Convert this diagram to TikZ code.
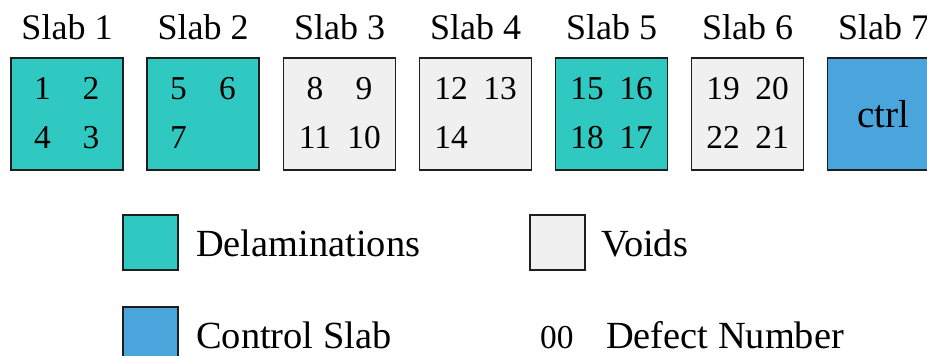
\documentclass[tikz,border=0pt]{standalone}
\usepackage{fontspec}
\setmainfont{Liberation Serif}
\definecolor{delam}{RGB}{47,201,193}
\definecolor{voidc}{RGB}{240,240,240}
\definecolor{ctrlc}{RGB}{74,165,220}
\definecolor{edge}{RGB}{30,30,30}
\tikzset{
  slabbox/.style={draw=edge, line width=1.6pt, minimum width=112pt, minimum height=112pt, inner sep=0pt},
  legbox/.style={draw=edge, line width=1.6pt, minimum width=55pt, minimum height=55pt, inner sep=0pt},
  slablabel/.style={anchor=base, inner sep=0pt, font=\fontsize{36}{40}\selectfont},
  numtxt/.style={anchor=base, inner sep=0pt, font=\fontsize{33.4}{38}\selectfont},
  legtxt/.style={anchor=base west, inner sep=0pt, font=\fontsize{38.4}{44}\selectfont}
}
\begin{document}
\begin{tikzpicture}[x=1pt,y=-1pt]
\useasboundingbox (0,0) rectangle (927,356);
\clip (0,0) rectangle (927,356);
% slab labels
\node[slablabel] (l1) at (67,39.3) {Slab 1};
\node[slablabel] (l2) at (203,39.3) {Slab 2};
\node[slablabel] (l3) at (339.5,39.3) {Slab 3};
\node[slablabel] (l4) at (475.5,39.3) {Slab 4};
\node[slablabel] (l5) at (611.5,39.3) {Slab 5};
\node[slablabel] (l6) at (747.5,39.3) {Slab 6};
\node[slablabel] (l7) at (883.5,39.3) {Slab 7};
% slab boxes
\node[slabbox, fill=delam] (s1) at (67,114) {};
\node[slabbox, fill=delam] (s2) at (203,114) {};
\node[slabbox, fill=voidc] (s3) at (339.5,114) {};
\node[slabbox, fill=voidc] (s4) at (475.5,114) {};
\node[slabbox, fill=delam] (s5) at (611.5,114) {};
\node[slabbox, fill=voidc] (s6) at (747.5,114) {};
\node[slabbox, fill=ctrlc] (s7) at (883.5,114) {};
% defect numbers
\node[numtxt] (d1) at (42.5,99.3) {1};
\node[numtxt] (d2) at (91,99.3) {2};
\node[numtxt] (d4) at (42.5,148.3) {4};
\node[numtxt] (d3) at (91,148.3) {3};
\node[numtxt] (d5) at (178.5,99.3) {5};
\node[numtxt] (d6) at (227.5,99.3) {6};
\node[numtxt] (d7) at (178.5,148.3) {7};
\node[numtxt] (d8) at (315,99.3) {8};
\node[numtxt] (d9) at (364,99.3) {9};
\node[numtxt] (d11) at (315,148.3) {11};
\node[numtxt] (d10) at (364,148.3) {10};
\node[numtxt] (d12) at (451,99.3) {12};
\node[numtxt] (d13) at (500,99.3) {13};
\node[numtxt] (d14) at (451,148.3) {14};
\node[numtxt] (d15) at (587,99.3) {15};
\node[numtxt] (d16) at (636,99.3) {16};
\node[numtxt] (d18) at (587,148.3) {18};
\node[numtxt] (d17) at (636,148.3) {17};
\node[numtxt] (d19) at (723,99.3) {19};
\node[numtxt] (d20) at (772,99.3) {20};
\node[numtxt] (d22) at (723,148.3) {22};
\node[numtxt] (d21) at (772,148.3) {21};
\node[slablabel, font=\fontsize{39}{44}\selectfont] (ctrl) at (883.5,127) {ctrl};
% legend
\node[legbox, fill=delam] (kd) at (150.5,242.5) {};
\node[legtxt] (kdt) at (196,256.5) {Delaminations};
\node[legbox, fill=voidc] (kv) at (557.5,242.5) {};
\node[legtxt] (kvt) at (601,256.5) {Voids};
\node[legbox, fill=ctrlc] (kc) at (150.5,334.2) {};
\node[legtxt] (kct) at (196,348.3) {Control Slab};
\node[numtxt, anchor=base west] (kn) at (540,348.3) {00};
\node[legtxt] (knt) at (606,348.3) {Defect Number};
\end{tikzpicture}
\end{document}
